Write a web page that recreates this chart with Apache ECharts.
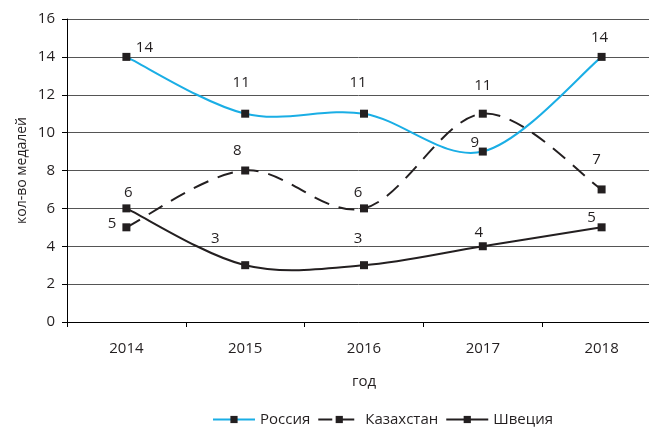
<!DOCTYPE html>
<html>
<head>
<meta charset="utf-8">
<script src="https://cdn.jsdelivr.net/npm/echarts@6/dist/echarts.min.js"></script>
<style>
  html, body { margin: 0; padding: 0; background: #fff; }
  #chart { width: 649px; height: 430px; }
</style>
</head>
<body>
<div id="chart"></div>
<script>
  const years = ['2014', '2015', '2016', '2017', '2018'];
  const russia = [14, 11, 11, 9, 14];
  const kazakhstan = [5, 8, 6, 11, 7];
  const sweden = [6, 3, 3, 4, 5];

  // смещения подписей (только оформление)
  const russiaOffsets = [[18, 7], [-4, -14], [-6, -14], [-8, 8], [-2, -3]];
  const kazOffsets = [[-1, -4], [-8, -3], [-6, 1], [0, -11], [-5, -13]];
  const swedenOffsets = [[2, 1], [-30, -10], [-6, -10], [-4, 3], [-10, 7]];

  const font = '"Open Sans", "Noto Sans", sans-serif';
  const txt = '#231f20';
  const blue = '#1aaee5';
  const dark = '#231f20';

  function withLabels(values, offsets, firstPos) {
    return values.map((v, i) => ({
      value: v,
      label: {
        position: (i === 0 && firstPos) ? firstPos : 'top',
        offset: offsets[i]
      }
    }));
  }

  // сглаженная кривая как в Excel (Catmull-Rom -> Безье), через координаты осей
  function curveSeries(values, style) {
    return {
      type: 'custom',
      coordinateSystem: 'cartesian2d',
      z: 1,
      silent: true,
      data: [[0, values[0]]],
      renderItem: function (params, api) {
        const pts = values.map((v, i) => api.coord([i, v]));
        const n = pts.length;
        let d = 'M' + pts[0][0] + ' ' + pts[0][1];
        for (let i = 0; i < n - 1; i++) {
          const p0 = pts[Math.max(i - 1, 0)];
          const p1 = pts[i];
          const p2 = pts[i + 1];
          const p3 = pts[Math.min(i + 2, n - 1)];
          const c1x = p1[0] + (p2[0] - p0[0]) / 6;
          const c1y = p1[1] + (p2[1] - p0[1]) / 6;
          const c2x = p2[0] - (p3[0] - p1[0]) / 6;
          const c2y = p2[1] - (p3[1] - p1[1]) / 6;
          d += ' C' + c1x + ' ' + c1y + ' ' + c2x + ' ' + c2y + ' ' + p2[0] + ' ' + p2[1];
        }
        return {
          type: 'path',
          shape: { pathData: d },
          style: Object.assign({ fill: null }, style)
        };
      }
    };
  }

  function markerSeries(name, values, offsets, firstPos) {
    return {
      name: name,
      type: 'line',
      symbol: 'rect',
      symbolSize: 8,
      z: 3,
      lineStyle: { opacity: 0 },
      itemStyle: { color: dark },
      label: { show: true, fontSize: 15, color: txt, fontFamily: font },
      data: withLabels(values, offsets, firstPos)
    };
  }

  const chart = echarts.init(document.getElementById('chart'));
  const option = {
    animation: false,
    textStyle: { fontFamily: font },
    grid: { left: 67, right: -12, top: 19, bottom: 108, containLabel: false, outerBoundsMode: 'none' },
    legend: {
      top: 407,
      left: 207,
      itemWidth: 42,
      itemHeight: 9,
      itemGap: 7,
      textStyle: { fontSize: 15, color: txt, fontFamily: font },
      data: [
        { name: 'Россия', lineStyle: { color: blue, width: 2, opacity: 1, type: 'solid' } },
        { name: 'Казахстан', lineStyle: { color: dark, width: 2, opacity: 1, type: [14, 8] } },
        { name: 'Швеция', lineStyle: { color: dark, width: 2, opacity: 1, type: 'solid' } }
      ]
    },
    xAxis: {
      type: 'category',
      data: years,
      name: 'год',
      nameLocation: 'middle',
      nameGap: 52,
      nameTextStyle: { fontSize: 15, color: txt },
      axisLine: { lineStyle: { color: '#000', width: 1 } },
      axisTick: { show: true, length: 5, lineStyle: { color: '#000' } },
      axisLabel: { fontSize: 15, color: txt, margin: 19 },
      splitLine: { show: false }
    },
    yAxis: {
      type: 'value',
      min: 0,
      max: 16,
      interval: 2,
      name: 'кол-во медалей',
      nameLocation: 'middle',
      nameGap: 38,
      nameMoveOverlap: false,
      nameTextStyle: { fontSize: 14, color: txt },
      axisLine: { show: true, lineStyle: { color: '#000', width: 1 } },
      axisTick: { show: true, length: 5, lineStyle: { color: '#000' } },
      axisLabel: { fontSize: 15, color: txt, margin: 12 },
      splitLine: { show: true, lineStyle: { color: '#555', width: 1 } }
    },
    series: [
      curveSeries(russia, { stroke: blue, lineWidth: 2 }),
      curveSeries(kazakhstan, { stroke: dark, lineWidth: 2, lineDash: [16, 10] }),
      curveSeries(sweden, { stroke: dark, lineWidth: 2 }),
      markerSeries('Россия', russia, russiaOffsets),
      markerSeries('Казахстан', kazakhstan, kazOffsets, 'left'),
      markerSeries('Швеция', sweden, swedenOffsets)
    ]
  };
  chart.setOption(option);
</script>
</body>
</html>
